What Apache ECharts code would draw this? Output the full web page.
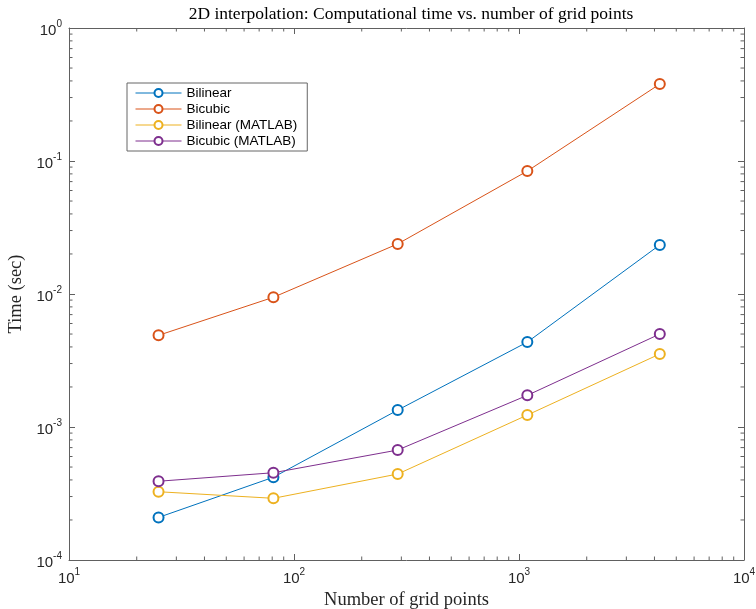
<!DOCTYPE html>
<html>
<head>
<meta charset="utf-8">
<script src="https://cdn.jsdelivr.net/npm/echarts@6/dist/echarts.min.js"></script>
<style>
  html, body { margin: 0; padding: 0; background: #fff; }
  #chart { width: 756px; height: 609px; }
</style>
</head>
<body>
<div id="chart"></div>
<script>
// Grid sizes (number of grid points) and measured times in seconds
const gridPoints = [25, 81, 289, 1089, 4225];
const bilinear = [2.09e-4, 4.19e-4, 1.34e-3, 4.35e-3, 0.0234];
const bicubic = [4.89e-3, 9.45e-3, 0.0238, 0.084, 0.379];
const bilinearMatlab = [3.26e-4, 2.91e-4, 4.43e-4, 1.23e-3, 3.54e-3];
const bicubicMatlab = [3.91e-4, 4.53e-4, 6.71e-4, 1.73e-3, 5.0e-3];

const seriesNames = ['Bilinear', 'Bicubic', 'Bilinear (MATLAB)', 'Bicubic (MATLAB)'];
const seriesColors = ['#0072BD', '#D95319', '#EDB120', '#7E2F8E'];
const seriesValues = [bilinear, bicubic, bilinearMatlab, bicubicMatlab];

const xRange = [10, 1e4];
const yRange = [1e-4, 1];

const axisColor = '#606060';
const sansFont = 'Liberation Sans';
const serifFont = 'Liberation Serif';

// Minor tick positions (2..9 within each decade) for the log axes
function minorValues(lo, hi) {
  const out = [];
  for (let d = lo; d < hi; d *= 10) {
    for (let k = 2; k <= 9; k++) out.push(d * k);
  }
  return out;
}
const xMinor = minorValues(xRange[0], xRange[1]).map(v => [v, yRange[0], 0]);
const yMinor = minorValues(yRange[0], yRange[1]).map(v => [xRange[0], v, 1]);

function powLabel(v) {
  const e = Math.round(Math.log10(v));
  return '{b|10}{e|' + e + '}';
}
const powRich = {
  b: { fontSize: 15, fontFamily: sansFont, color: '#262626', verticalAlign: 'bottom', lineHeight: 20 },
  e: { fontSize: 10, fontFamily: sansFont, color: '#262626', verticalAlign: 'bottom', lineHeight: 20, padding: [0, 0, 9, 0] }
};

const lineSeries = seriesNames.map((name, i) => ({
  name: name,
  type: 'line',
  xAxisIndex: 0,
  yAxisIndex: 0,
  data: gridPoints.map((x, j) => [x, seriesValues[i][j]]),
  symbol: 'emptyCircle',
  symbolSize: 10,
  showAllSymbol: true,
  color: seriesColors[i],
  lineStyle: { width: 1, color: seriesColors[i] },
  itemStyle: { color: seriesColors[i], borderWidth: 1.6 },
  z: 3
}));

// Minor ticks drawn on all four sides of the box
const minorTickSeries = {
  type: 'custom',
  xAxisIndex: 0,
  yAxisIndex: 0,
  silent: true,
  data: xMinor.concat(yMinor),
  renderItem: function (params, api) {
    const cs = params.coordSys;
    const len = 3.5;
    const style = { stroke: axisColor, lineWidth: 1 };
    if (api.value(2) === 0) {
      const px = api.coord([api.value(0), yRange[0]])[0];
      return {
        type: 'group',
        children: [
          { type: 'line', shape: { x1: px, y1: cs.y + cs.height, x2: px, y2: cs.y + cs.height - len }, style: style },
          { type: 'line', shape: { x1: px, y1: cs.y, x2: px, y2: cs.y + len }, style: style }
        ]
      };
    }
    const py = api.coord([xRange[0], api.value(1)])[1];
    return {
      type: 'group',
      children: [
        { type: 'line', shape: { x1: cs.x, y1: py, x2: cs.x + len, y2: py }, style: style },
        { type: 'line', shape: { x1: cs.x + cs.width, y1: py, x2: cs.x + cs.width - len, y2: py }, style: style }
      ]
    };
  },
  z: 2
};

const chart = echarts.init(document.getElementById('chart'), null, { renderer: 'canvas' });

chart.setOption({
  animation: false,
  backgroundColor: '#fff',
  title: {
    text: '2D interpolation: Computational time vs. number of grid points',
    left: 406,
    textAlign: 'center',
    top: 0,
    textStyle: { fontFamily: serifFont, fontWeight: 'normal', fontSize: 17.5, color: '#000' }
  },
  grid: { left: 69, right: 12, top: 28, bottom: 49, containLabel: false, outerBoundsMode: 'none' },
  legend: {
    data: seriesNames,
    orient: 'vertical',
    left: 127,
    top: 83,
    padding: [3, 10, 3, 8],
    itemWidth: 46,
    itemHeight: 10,
    itemGap: 2,
    borderColor: '#666',
    borderWidth: 1,
    backgroundColor: '#fff',
    lineStyle: { width: 1 },
    itemStyle: { borderWidth: 1.5 },
    textStyle: { fontFamily: sansFont, fontSize: 13.5, color: '#000' }
  },
  xAxis: [
    {
      type: 'log',
      logBase: 10,
      min: xRange[0],
      max: xRange[1],
      position: 'bottom',
      name: 'Number of grid points',
      nameLocation: 'middle',
      nameGap: 29,
      nameTextStyle: { fontFamily: serifFont, fontSize: 18.5, color: '#262626' },
      axisLine: { show: true, lineStyle: { color: axisColor, width: 1 } },
      axisTick: { show: true, inside: true, length: 6, lineStyle: { color: axisColor } },
      axisLabel: { formatter: powLabel, rich: powRich, margin: 6 },
      splitLine: { show: false },
      minorTick: { show: false }
    },
    {
      type: 'log',
      logBase: 10,
      min: xRange[0],
      max: xRange[1],
      position: 'top',
      axisLine: { show: true, lineStyle: { color: axisColor, width: 1 } },
      axisTick: { show: true, inside: true, length: 6, lineStyle: { color: axisColor } },
      axisLabel: { show: false },
      splitLine: { show: false }
    }
  ],
  yAxis: [
    {
      type: 'log',
      logBase: 10,
      min: yRange[0],
      max: yRange[1],
      position: 'left',
      name: 'Time (sec)',
      nameLocation: 'middle',
      nameGap: 37,
      nameTextStyle: { fontFamily: serifFont, fontSize: 18.5, color: '#262626' },
      axisLine: { show: true, lineStyle: { color: axisColor, width: 1 } },
      axisTick: { show: true, inside: true, length: 6, lineStyle: { color: axisColor } },
      axisLabel: { formatter: powLabel, rich: powRich, margin: 7 },
      splitLine: { show: false }
    },
    {
      type: 'log',
      logBase: 10,
      min: yRange[0],
      max: yRange[1],
      position: 'right',
      axisLine: { show: true, lineStyle: { color: axisColor, width: 1 } },
      axisTick: { show: true, inside: true, length: 6, lineStyle: { color: axisColor } },
      axisLabel: { show: false },
      splitLine: { show: false }
    }
  ],
  series: lineSeries.concat([minorTickSeries])
});
</script>
</body>
</html>
